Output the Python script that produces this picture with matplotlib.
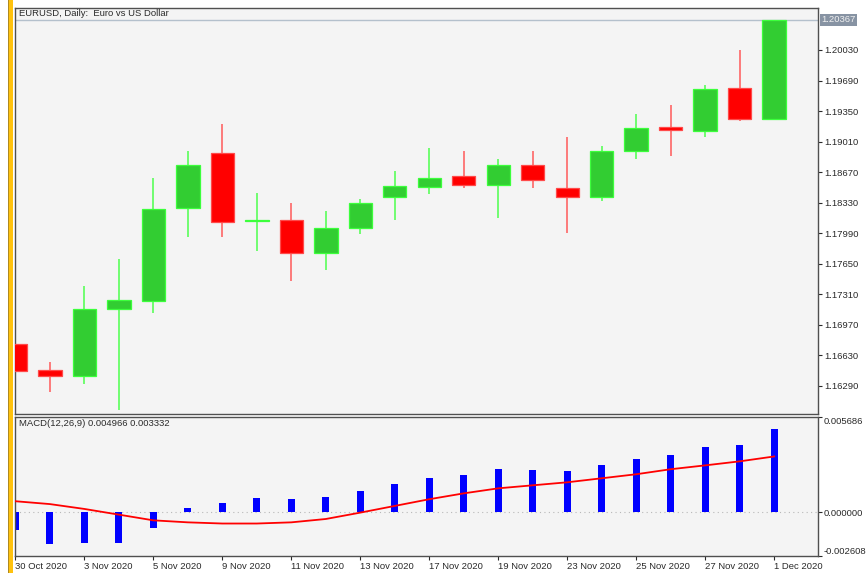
import matplotlib
matplotlib.use("Agg")
import matplotlib.pyplot as plt
from matplotlib.patches import Rectangle
import numpy as np

dates = ["30 Oct 2020", "2 Nov 2020", "3 Nov 2020", "4 Nov 2020", "5 Nov 2020",
         "6 Nov 2020", "9 Nov 2020", "10 Nov 2020", "11 Nov 2020", "12 Nov 2020",
         "13 Nov 2020", "16 Nov 2020", "17 Nov 2020", "18 Nov 2020", "19 Nov 2020",
         "20 Nov 2020", "23 Nov 2020", "24 Nov 2020", "25 Nov 2020", "26 Nov 2020",
         "27 Nov 2020", "30 Nov 2020", "1 Dec 2020"]

opens = [1.16752, 1.16471, 1.16405, 1.17147, 1.17240, 1.18268, 1.18880, 1.18128,
         1.18138, 1.17767, 1.18045, 1.18397, 1.18505, 1.18624, 1.18524, 1.18750,
         1.18494, 1.18397, 1.18906, 1.19176, 1.19125, 1.19607, 1.19262]
highs = [1.16770, 1.16557, 1.17400, 1.17707, 1.18605, 1.18909, 1.19206, 1.18435,
         1.18327, 1.18235, 1.18372, 1.18687, 1.18939, 1.18909, 1.18820, 1.18909,
         1.19058, 1.18965, 1.19314, 1.19421, 1.19640, 1.20033, 1.20367]
lows = [1.16440, 1.16223, 1.16316, 1.16020, 1.17103, 1.17949, 1.17949, 1.17789,
        1.17455, 1.17578, 1.17982, 1.18141, 1.18431, 1.18494, 1.18160, 1.18491,
        1.17990, 1.18353, 1.18817, 1.18850, 1.19062, 1.19236, 1.19248]
closes = [1.16457, 1.16405, 1.17150, 1.17244, 1.18264, 1.18750, 1.18119, 1.18132,
          1.17767, 1.18052, 1.18327, 1.18516, 1.18602, 1.18524, 1.18750, 1.18586,
          1.18397, 1.18909, 1.19165, 1.19136, 1.19599, 1.19262, 1.20367]

macd = [-0.00107, -0.00187, -0.00186, -0.00181, -0.00091, 0.00025, 0.00057, 0.00087,
        0.00081, 0.00093, 0.00125, 0.00167, 0.00203, 0.00221, 0.00257, 0.00255,
        0.00245, 0.00280, 0.00316, 0.00340, 0.00388, 0.00400, 0.004966]
signal = [0.00066, 0.00049, 0.00020, -0.00014, -0.00048, -0.00060, -0.00067, -0.00067,
          -0.00060, -0.00040, -0.00002, 0.00038, 0.00078, 0.00113, 0.00143, 0.00161,
          0.00179, 0.00203, 0.00227, 0.00257, 0.00280, 0.00304, 0.003332]

price_ticks = [1.20030, 1.19690, 1.19350, 1.19010, 1.18670, 1.18330, 1.17990,
               1.17650, 1.17310, 1.16970, 1.16630, 1.16290]
bid = 1.20367
macd_ticks = [0.005686, 0.0, -0.002608]
macd_tick_labels = ["0.005686", "0.000000", "-0.002608"]

BG = "#f4f4f4"
FRAME = "#505050"
TXT = "#2a2a2a"
FS = 6.8


def main() -> None:
    plt.rcParams["font.family"] = ["Liberation Sans", "DejaVu Sans"]
    fig = plt.figure(figsize=(8.66, 5.73), dpi=100, facecolor="white")
    W, H = 866, 573

    ax = fig.add_axes([15 / W, 1 - 414 / H, 803 / W, 406 / H], facecolor=BG)
    ax2 = fig.add_axes([15 / W, 1 - 556 / H, 803 / W, 139 / H], facecolor=BG)

    # gold strip on the left edge
    fig.patches.append(Rectangle((8 / W, 0), 5 / W, 1, transform=fig.transFigure,
                                 facecolor="#ffc20e", edgecolor="none"))
    fig.patches.append(Rectangle((8 / W, 0), 1.2 / W, 1, transform=fig.transFigure,
                                 facecolor="#b08a20", edgecolor="none"))

    x = np.arange(len(dates))
    o = np.array(opens)
    c = np.array(closes)
    up = c >= o

    # bid line
    ax.axhline(bid, color="#b4c0cc", lw=1.0, zorder=1)

    # wicks
    ax.vlines(x[up], np.array(lows)[up], np.array(highs)[up], color="#4cff4c", lw=1.1, zorder=2)
    ax.vlines(x[~up], np.array(lows)[~up], np.array(highs)[~up], color="#ff5a5a", lw=1.1, zorder=2)

    # bodies
    body = np.abs(c - o)
    body = np.maximum(body, 0.00003)
    bottom = np.minimum(o, c)
    ax.bar(x[up], body[up], bottom=bottom[up], width=0.68, color="#32cd32",
           edgecolor="#3cff3c", lw=0.9, zorder=3)
    ax.bar(x[~up], body[~up], bottom=bottom[~up], width=0.68, color="#ff0000",
           edgecolor="#ff4a4a", lw=0.9, zorder=3)

    ax.set_xlim(-0.01, 23.27)
    ax.set_ylim(1.15978, 1.20497)
    ax.yaxis.tick_right()
    ax.set_yticks(price_ticks)
    ax.set_yticklabels([f"{v:.5f}" for v in price_ticks])
    ax.tick_params(axis="y", direction="out", length=3, width=0.8, colors=TXT,
                   labelsize=FS, pad=1.2)
    ax.set_xticks([])
    for s in ax.spines.values():
        s.set_color(FRAME)
        s.set_linewidth(1.0)

    ax.text(1.004, bid, f"{bid:.5f}", transform=ax.get_yaxis_transform(),
            ha="left", va="center", fontsize=FS, color="#f0f0f0",
            bbox=dict(boxstyle="square,pad=0.15", facecolor="#8793a3", edgecolor="none"))
    ax.text(0.005, 0.9875, "EURUSD, Daily:  Euro vs US Dollar", transform=ax.transAxes,
            ha="left", va="center", fontsize=FS, color=TXT)

    # MACD panel
    ax2.axhline(0, color="#b8b8b8", lw=0.8, ls=(0, (1, 3)), zorder=1)
    ax2.bar(x, macd, width=0.2, color="#0000ff", zorder=2)
    ax2.plot(x, signal, color="#ff0000", lw=1.3, zorder=3)
    ax2.set_xlim(-0.01, 23.27)
    ax2.set_ylim(-0.002608, 0.005686)
    ax2.yaxis.tick_right()
    ax2.set_yticks(macd_ticks)
    ax2.set_yticklabels(macd_tick_labels)
    ax2.tick_params(axis="y", direction="out", length=3, width=0.8, colors=TXT,
                    labelsize=FS, pad=1.0)
    labs = ax2.get_yticklabels()
    labs[0].set_va("top")
    labs[2].set_va("bottom")

    xt = x[::2]
    ax2.set_xticks(xt)
    ax2.set_xticklabels([dates[i] for i in xt], ha="left")
    ax2.tick_params(axis="x", direction="out", length=3, width=0.8, colors=TXT,
                    labelsize=FS, pad=1.5)
    for s in ax2.spines.values():
        s.set_color(FRAME)
        s.set_linewidth(1.0)

    ax2.text(0.005, 0.95, "MACD(12,26,9) 0.004966 0.003332", transform=ax2.transAxes,
             ha="left", va="center", fontsize=FS, color=TXT)

    fig.savefig("out.png", dpi=100, facecolor="white")


if __name__ == "__main__":
    main()
